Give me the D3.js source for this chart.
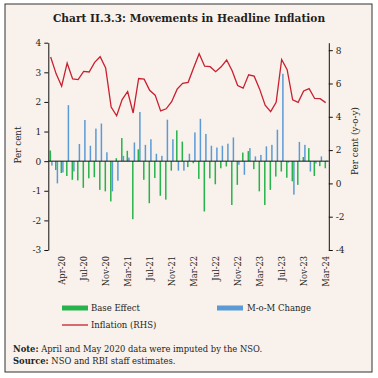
<!DOCTYPE html>
<html>
<head>
<meta charset="utf-8">
<script src="https://cdn.jsdelivr.net/npm/d3@7"></script>
<style>
  body { margin: 0; background: #ffffff; }
  text { font-family: "DejaVu Serif", serif; fill: #231f20; }
</style>
</head>
<body>
<script>
// Months on the category axis (Jan-20 to Mar-24)
var months = ["Jan-20","Feb-20","Mar-20","Apr-20","May-20","Jun-20","Jul-20","Aug-20","Sep-20","Oct-20","Nov-20","Dec-20",
  "Jan-21","Feb-21","Mar-21","Apr-21","May-21","Jun-21","Jul-21","Aug-21","Sep-21","Oct-21","Nov-21","Dec-21",
  "Jan-22","Feb-22","Mar-22","Apr-22","May-22","Jun-22","Jul-22","Aug-22","Sep-22","Oct-22","Nov-22","Dec-22",
  "Jan-23","Feb-23","Mar-23","Apr-23","May-23","Jun-23","Jul-23","Aug-23","Sep-23","Oct-23","Nov-23","Dec-23",
  "Jan-24","Feb-24","Mar-24"];

// Base effect (per cent, LHS)
var baseEffect = [0.36,-0.30,-0.40,-0.50,-0.63,-0.65,-0.90,-0.58,-0.54,-0.97,-1.02,-1.36,
  0.10,0.78,0.35,-1.96,0.40,-0.63,-1.42,-0.57,-1.17,-1.30,-0.32,1.04,
  0.66,-0.20,-0.07,-0.60,-1.70,-0.58,-0.78,-0.24,-0.18,-1.48,-0.80,0.29,
  0.34,-0.27,-1.02,-1.48,-0.97,-0.52,-0.35,-0.56,-0.68,-0.80,0.14,0.44,
  -0.50,-0.17,-0.24];

// Month-on-month change (per cent, LHS)
var momChange = [-0.15,-0.75,-0.38,1.89,-0.35,0.58,1.39,0.52,1.10,1.27,0.30,-1.02,
  -0.66,0.18,0.12,0.63,1.66,0.55,0.74,0.25,0.18,1.40,0.74,-0.32,
  -0.32,0.25,0.97,1.43,0.92,0.52,0.46,0.52,0.59,0.80,-0.12,-0.46,
  0.44,0.16,0.21,0.50,0.55,1.06,2.95,-0.05,-1.13,0.65,0.55,-0.35,
  -0.08,0.16,0.02];

// Headline inflation y-o-y (per cent, RHS)
var inflation = [7.59,6.58,5.84,7.22,6.27,6.23,6.73,6.69,7.27,7.61,6.93,4.59,
  4.06,5.03,5.52,4.23,6.30,6.26,5.59,5.30,4.35,4.48,4.91,5.66,
  6.01,6.07,6.95,7.79,7.04,7.01,6.71,7.00,7.41,6.77,5.88,5.72,
  6.52,6.44,5.66,4.70,4.31,4.87,7.44,6.83,5.02,4.87,5.55,5.69,
  5.10,5.09,4.85];

// Where the axis labels sit, and what they say
var tickMonths = ["Mar-20","Jul-20","Nov-20","Mar-21","Jul-21","Nov-21","Mar-22","Jul-22","Nov-22","Mar-23","Jul-23","Nov-23","Mar-24"];
var tickText = ["Apr-20","Jul-20","Nov-20","Mar-21","Jul-21","Nov-21","Mar-22","Jul-22","Nov-22","Mar-23","Jul-23","Nov-23","Mar-24"];
var leftTicks = [-3,-2,-1,0,1,2,3,4];
var rightTicks = [-4,-2,0,2,4,6,8];

var green = "#27b34b", blue = "#5b9bd5", red = "#c8202f";

var svg = d3.select("body").append("svg")
    .attr("width", 378)
    .attr("height", 378);

// Panel background and frame
svg.append("rect")
    .attr("x", 5).attr("y", 4)
    .attr("width", 367).attr("height", 368)
    .attr("fill", "#f9f1ec")
    .attr("stroke", "#333")
    .attr("stroke-width", 1);

// Title
svg.append("text")
    .attr("x", 189).attr("y", 22)
    .attr("text-anchor", "middle")
    .style("font-weight", "bold")
    .style("font-size", "10.6px")
    .text("Chart II.3.3: Movements in Headline Inflation");

// Scales
var x = d3.scaleBand()
    .domain(months)
    .range([48.3, 328.8]);
var yL = d3.scaleLinear()
    .domain([-3, 4])
    .range([250, 42.7]);
var yR = d3.scaleLinear()
    .domain([-4, 8.45])
    .range([250, 42.7]);

function xc(m) { return x(m) + x.bandwidth() / 2; }

// Bars: base effect (green) and m-o-m change (blue), side by side
svg.append("g").selectAll("rect")
    .data(months)
  .enter().append("rect")
    .attr("x", function(d) { return xc(d) - 1.5; })
    .attr("width", 1.5)
    .attr("y", function(d, i) { return yL(Math.max(0, baseEffect[i])); })
    .attr("height", function(d, i) { return Math.abs(yL(baseEffect[i]) - yL(0)); })
    .attr("fill", green);

svg.append("g").selectAll("rect")
    .data(months)
  .enter().append("rect")
    .attr("x", function(d) { return xc(d) + 0.1; })
    .attr("width", 1.5)
    .attr("y", function(d, i) { return yL(Math.max(0, momChange[i])); })
    .attr("height", function(d, i) { return Math.abs(yL(momChange[i]) - yL(0)); })
    .attr("fill", blue);

// Zero line
svg.append("line")
    .attr("x1", 48.3).attr("x2", 328.8)
    .attr("y1", yL(0)).attr("y2", yL(0))
    .attr("stroke", "#111")
    .attr("stroke-width", 1);

// Inflation line (RHS)
var line = d3.line()
    .x(function(d, i) { return xc(months[i]) - 0.4; })
    .y(function(d) { return yR(d); });

svg.append("path")
    .datum(inflation)
    .attr("fill", "none")
    .attr("stroke", red)
    .attr("stroke-width", 1.3)
    .attr("d", line);

// Left axis
var gL = svg.append("g")
    .attr("transform", "translate(48.3,0)")
    .call(d3.axisLeft(yL).tickValues(leftTicks).tickSize(4).tickSizeOuter(0)
      .tickFormat(function(d) { return String(d); }));
gL.selectAll("text").style("font-size", "9px").attr("x", -7);

// Right axis
var gR = svg.append("g")
    .attr("transform", "translate(328.8,0)")
    .call(d3.axisRight(yR).tickValues(rightTicks).tickSize(4).tickSizeOuter(0)
      .tickFormat(function(d) { return String(d); }));
gR.selectAll("text").style("font-size", "9px").attr("x", 7);

svg.selectAll(".domain").attr("stroke", "#111");
svg.selectAll(".tick line").attr("stroke", "#111");

// Category labels, rotated
var gX = svg.append("g")
    .attr("transform", "translate(0,250)")
    .call(d3.axisBottom(x).tickValues(tickMonths).tickSize(0)
      .tickFormat(function(d, i) { return tickText[i]; }));
gX.select(".domain").remove();
gX.selectAll("text")
    .attr("transform", "rotate(-90)")
    .attr("x", -6)
    .attr("y", 0)
    .attr("dy", "0.35em")
    .style("text-anchor", "end")
    .style("font-size", "8.3px");

// Axis titles
svg.append("text")
    .attr("transform", "translate(21,145) rotate(-90)")
    .attr("text-anchor", "middle")
    .style("font-size", "8.8px")
    .text("Per cent");

svg.append("text")
    .attr("transform", "translate(358,141) rotate(-90)")
    .attr("text-anchor", "middle")
    .style("font-size", "8.8px")
    .text("Per cent (y-o-y)");

// Legend
var legend = svg.append("g").style("font-size", "8.5px");
legend.append("rect").attr("x", 62).attr("y", 305.5).attr("width", 26).attr("height", 5).attr("fill", green);
legend.append("text").attr("x", 91).attr("y", 311).text("Base Effect");
legend.append("rect").attr("x", 217).attr("y", 305.5).attr("width", 26).attr("height", 5).attr("fill", blue);
legend.append("text").attr("x", 247).attr("y", 311).text("M-o-M Change");
legend.append("line").attr("x1", 62).attr("x2", 88).attr("y1", 325).attr("y2", 325)
    .attr("stroke", red).attr("stroke-width", 1.3);
legend.append("text").attr("x", 91).attr("y", 328).text("Inflation (RHS)");

// Notes
var note = svg.append("text").attr("x", 13).attr("y", 352).style("font-size", "8.4px");
note.append("tspan").style("font-weight", "bold").text("Note:");
note.append("tspan").text(" April and May 2020 data were imputed by the NSO.");

var src = svg.append("text").attr("x", 13).attr("y", 364).style("font-size", "8.4px");
src.append("tspan").style("font-weight", "bold").text("Source:");
src.append("tspan").text(" NSO and RBI staff estimates.");
</script>
</body>
</html>
